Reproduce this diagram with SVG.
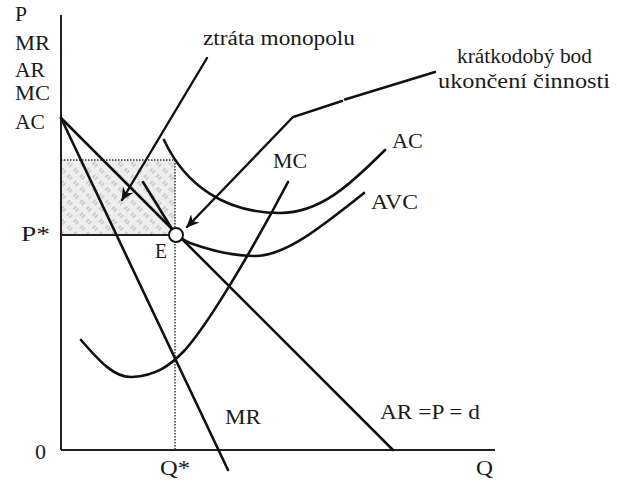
<svg xmlns="http://www.w3.org/2000/svg" width="617" height="483" viewBox="0 0 617 483">
<style>
  .ln{fill:none;stroke:#111;stroke-width:2.6;stroke-linecap:round;stroke-linejoin:round}
  .ax{fill:none;stroke:#222;stroke-width:2}
  .dot{fill:none;stroke:#333;stroke-width:1.5;stroke-dasharray:1.5 1.5}
  .t{font-family:"Liberation Serif","Times New Roman",serif;font-size:20px;fill:#1a1a1a}
  .arr{fill:none;stroke:#111;stroke-width:2.4;stroke-linecap:round}
</style>
<defs>
  <pattern id="hatch" width="9" height="9" patternUnits="userSpaceOnUse" patternTransform="rotate(45)">
    <rect width="9" height="9" fill="#eeeeee"/>
    <path d="M2,2 V6 M5,2 V6" stroke="#aaaaaa" stroke-width="1"/>
  </pattern>
  <marker id="ah" markerWidth="14" markerHeight="12" refX="12" refY="6" orient="auto" markerUnits="userSpaceOnUse">
    <path d="M0,0 L13,6 L0,12 L4,6 Z" fill="#111"/>
  </marker>
</defs>
<rect width="617" height="483" fill="#fff"/>

<g id="shading">
  <rect x="61" y="160" width="114" height="75" fill="url(#hatch)"/>
  <line class="dot" x1="61" y1="160" x2="175" y2="160"/>
  <line class="dot" x1="175" y1="160" x2="175" y2="450"/>
  <line x1="61" y1="235" x2="170" y2="235" stroke="#222" stroke-width="2"/>
</g>

<g id="axes">
  <line class="ax" x1="61" y1="15" x2="61" y2="450"/>
  <line class="ax" x1="61" y1="450" x2="495" y2="450"/>
</g>

<g id="demand"><line class="ln" x1="61" y1="118" x2="393" y2="450"/></g>
<g id="mr"><line class="ln" x1="61" y1="118" x2="228" y2="470"/></g>
<g id="mc"><path class="ln" d="M81,340 C100,362 115,378 132,377 C155,376 170,366 185,350 C210,322 255,245 288,182"/></g>
<g id="ac"><path class="ln" d="M164,140 C185,185 225,213 280,213 C320,213 350,185 385,150"/></g>
<g id="avc"><path class="ln" d="M143,182 L172,229 Q178,238 190,243 C215,252 235,256 255,256 C285,256 320,228 364,193"/></g>

<g id="connectors">
  <line class="arr" x1="207" y1="58" x2="122" y2="200" marker-end="url(#ah)"/>
  <line class="arr" x1="435" y1="72" x2="345" y2="99.5"/>
  <polyline class="arr" points="342,101 293,117 187,227" marker-end="url(#ah)"/>
</g>

<g id="point-e"><circle cx="176" cy="235" r="7" fill="#fff" stroke="#111" stroke-width="2"/></g>

<g id="labels">
  <text class="t" x="15" y="21" textLength="12" lengthAdjust="spacingAndGlyphs">P</text>
  <text class="t" x="15" y="50" textLength="35" lengthAdjust="spacingAndGlyphs">MR</text>
  <text class="t" x="15" y="77" textLength="30" lengthAdjust="spacingAndGlyphs">AR</text>
  <text class="t" x="15" y="100" textLength="35" lengthAdjust="spacingAndGlyphs">MC</text>
  <text class="t" x="15" y="129" textLength="30" lengthAdjust="spacingAndGlyphs">AC</text>
  <text class="t" x="21" y="241" textLength="29" lengthAdjust="spacingAndGlyphs">P*</text>
  <text class="t" x="155" y="258" textLength="12" lengthAdjust="spacingAndGlyphs">E</text>
  <text class="t" x="203" y="45" textLength="152" lengthAdjust="spacingAndGlyphs">ztráta monopolu</text>
  <text class="t" x="457" y="63" textLength="135" lengthAdjust="spacingAndGlyphs">krátkodobý bod</text>
  <text class="t" x="438" y="88" textLength="172" lengthAdjust="spacingAndGlyphs">ukončení činnosti</text>
  <text class="t" x="392" y="148" textLength="31" lengthAdjust="spacingAndGlyphs">AC</text>
  <text class="t" x="371" y="209" textLength="47" lengthAdjust="spacingAndGlyphs">AVC</text>
  <text class="t" x="273" y="168" textLength="34" lengthAdjust="spacingAndGlyphs">MC</text>
  <text class="t" x="225" y="424" textLength="36" lengthAdjust="spacingAndGlyphs">MR</text>
  <text class="t" x="380" y="419" textLength="100" lengthAdjust="spacingAndGlyphs">AR =P = d</text>
  <text class="t" x="35" y="459" textLength="11" lengthAdjust="spacingAndGlyphs">0</text>
  <text class="t" x="160" y="475" textLength="30" lengthAdjust="spacingAndGlyphs">Q*</text>
  <text class="t" x="476" y="475" textLength="17" lengthAdjust="spacingAndGlyphs">Q</text>
</g>
</svg>
